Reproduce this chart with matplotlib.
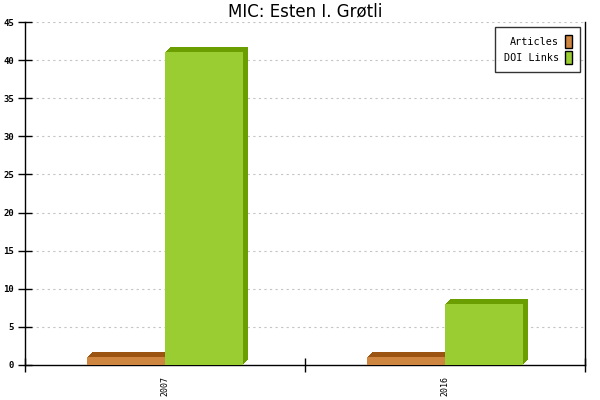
import numpy as np
import matplotlib
matplotlib.use("Agg")
import matplotlib.pyplot as plt
import matplotlib.transforms as mtransforms

# data
years = ["2007", "2016"]
articles = [1, 1]
doi_links = [41, 8]
series_names = ["Articles", "DOI Links"]

front_cols = ["#CD853F", "#9ACD32"]
dark_cols = ["#9C5412", "#6B9E00"]

fig = plt.figure(figsize=(6, 4), dpi=100)
ax = fig.add_axes([25/600, 35/400, 560/600, 343/400])

x = np.arange(len(years)) + 0.5
w = 0.28
depth = 5  # pixels

for k, vals in enumerate([articles, doi_links]):
    xs = x - w + k * w
    for d in range(1, depth + 1):
        tr = ax.transData + mtransforms.Affine2D().translate(d, d)
        ax.bar(xs, vals, width=w, align="edge", color=dark_cols[k],
               transform=tr, zorder=2 + 2 * k, linewidth=0)
    ax.bar(xs, vals, width=w, align="edge", color=front_cols[k],
           zorder=3 + 2 * k, linewidth=0, label=series_names[k])

ax.set_xlim(0, len(years))
ax.set_ylim(0, 45)
ax.set_yticks(np.arange(0, 46, 5))
ax.set_xticks(np.arange(0, len(years) + 1))
ax.set_xticklabels([])
ax.set_xticks(x, minor=True)
ax.set_xticklabels(years, minor=True, rotation=90,
                   family="DejaVu Sans Mono", fontsize=6)
ax.tick_params(axis="x", which="minor", length=0, pad=8)
ax.tick_params(axis="both", which="major", direction="inout", length=10, width=1)
ax.tick_params(axis="y", labelsize=6.5, pad=3)
for lab in ax.get_yticklabels():
    lab.set_family("DejaVu Sans Mono")
    lab.set_fontweight("bold")

for yv in np.arange(5, 46, 5):
    ax.axhline(yv, color="#c4c4c4", linestyle=(0, (2, 3)), linewidth=0.8, zorder=0)

ax.spines["top"].set_visible(False)
for s in ["left", "bottom", "right"]:
    ax.spines[s].set_linewidth(1)

ax.set_title("MIC: Esten I. Grøtli", fontsize=12, pad=4)

# legend with swatches on the right
leg = ax.legend(loc="upper right", bbox_to_anchor=(0.991, 0.985), frameon=True,
                fancybox=False, edgecolor="black", markerfirst=False,
                borderaxespad=0,
                prop={"family": "DejaVu Sans Mono", "size": 7.3},
                handlelength=0.7, handleheight=1.5, handletextpad=0.6,
                borderpad=0.8, labelspacing=0.35)
leg.get_frame().set_linewidth(1)
for h in leg.legend_handles:
    h.set_edgecolor("black")
    h.set_linewidth(1)

fig.savefig("out.png", dpi=100)
